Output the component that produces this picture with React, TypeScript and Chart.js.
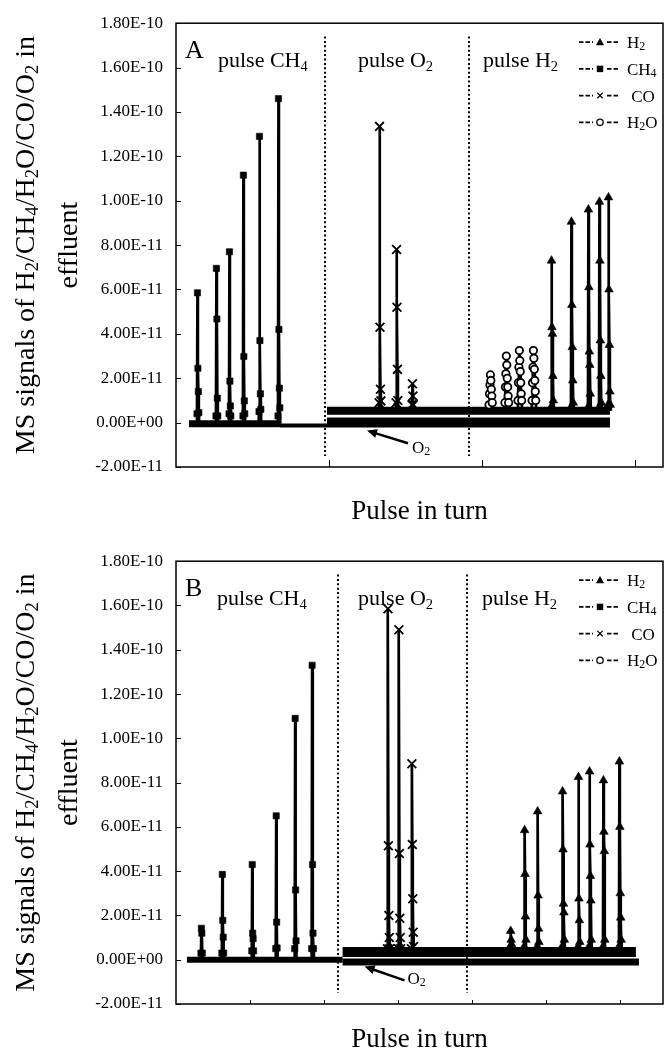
import React, { useEffect, useRef } from 'react';
import { Chart, registerables } from 'chart.js';

Chart.register(...registerables);

const SERIF = '"Liberation Serif", "Times New Roman", Times, serif';

// MS signal values are stored in units of 1E-11
const yTickValues = [-2, 0, 2, 4, 6, 8, 10, 12, 14, 16, 18];
const yTickLabels = [
  '-2.00E-11', '0.00E+00', '2.00E-11', '4.00E-11', '6.00E-11', '8.00E-11',
  '1.00E-10', '1.20E-10', '1.40E-10', '1.60E-10', '1.80E-10',
];

// ---------------- Panel A ----------------
const xMaxA = 3180;
const xTickValuesA = [1000, 2000, 3000];
const phaseBoundsA = [973, 1913];

const ch4PeakTimesA = [137, 261, 346, 437, 542, 666];
const ch4PeakSamplesA = [
  [0.4, 5.85, 2.45, 1.4, 0.45],
  [0.3, 6.95, 4.67, 1.1, 0.3],
  [0.4, 7.7, 1.87, 0.75, 0.3],
  [0.3, 11.15, 2.98, 0.98, 0.4],
  [0.5, 12.9, 3.7, 1.3, 0.6],
  [0.3, 14.6, 4.2, 1.55, 0.67],
];
const coPeakTimesA = [1326, 1437, 1541];
const coPeakSamplesA = [
  [0.9, 13.35, 4.3, 1.5, 0.98],
  [0.9, 7.8, 5.2, 2.4, 1.0],
  [0.8, 1.75, 1.2, 0.8],
];
const h2oPeakTimesA = [2044, 2148, 2233, 2325];
const h2oPeakSamplesA = [
  [0.8, 1.3, 1.7, 2.15, 1.9, 1.5, 1.2, 0.9],
  [0.9, 1.6, 2.2, 3.0, 2.6, 2.0, 1.6, 1.2, 0.9],
  [1.0, 1.8, 2.5, 3.25, 2.8, 2.3, 1.8, 1.3, 1.0],
  [1.0, 1.8, 2.5, 3.25, 2.9, 2.4, 1.9, 1.4, 1.0],
];
const h2PeakTimesA = [2449, 2579, 2690, 2762, 2821];
const h2PeakSamplesA = [
  [0.7, 7.3, 4.3, 4.0, 2.1, 1.0],
  [0.7, 9.05, 5.3, 3.4, 1.9, 0.9],
  [0.7, 9.6, 6.1, 3.2, 2.6, 1.3],
  [0.7, 9.95, 7.3, 3.7, 2.1, 0.9],
  [0.8, 10.15, 6.0, 3.5, 1.4, 0.8],
];
// baseline levels between pulses: [start, end, level]
const ch4BaselineA = [85, 679, -0.05];
const ch4TailBaselineA = [679, 986, -0.13];
const o2BaselineA = [986, 2834, 0];
const mixedBaselineA = [986, 2834, 0.53];

// ---------------- Panel B ----------------
const xMaxB = 6580;
const xTickValuesB = [1000, 2000, 3000, 4000, 5000, 6000];
const phaseBoundsB = [2184, 3936];

const ch4PeakTimesB = [337, 620, 1024, 1348, 1604, 1833];
const ch4PeakSamplesB = [
  [0.3, 1.42, 1.2, 0.3],
  [0.3, 3.85, 1.78, 1.02, 0.3],
  [0.4, 4.3, 1.2, 0.95, 0.4],
  [0.5, 6.5, 1.7, 0.53],
  [0.5, 10.9, 3.15, 0.85],
  [0.5, 13.3, 4.3, 1.2, 0.5],
];
const coPeakTimesB = [2858, 3006, 3181];
const coPeakSamplesB = [
  [0.5, 15.85, 5.15, 2.0, 1.0, 0.5],
  [0.5, 14.9, 4.8, 1.87, 1.0, 0.5],
  [0.5, 8.85, 5.2, 2.75, 1.24, 0.6],
];
const h2PeakTimesB = [4516, 4704, 4880, 5217, 5432, 5581, 5769, 5985];
const h2PeakSamplesB = [
  [0.6, 1.3, 0.9, 0.7],
  [0.6, 5.85, 3.87, 1.95, 0.9],
  [0.6, 6.7, 2.9, 1.4, 0.8],
  [0.6, 7.6, 4.98, 2.53, 2.13, 0.9],
  [0.6, 8.25, 2.76, 1.78, 0.8],
  [0.6, 8.5, 5.2, 3.78, 2.67, 0.9],
  [0.6, 8.1, 5.78, 4.9, 0.9],
  [0.6, 8.95, 6.0, 3.0, 1.9, 0.9],
];
const ch4BaselineB = [148, 2251, 0];
const o2BaselineB = [2251, 6255, -0.1];
const mixedBaselineB = [2251, 6214, 0.35];

// ---------------- drawing helpers ----------------
type Seg = { t: string; sub?: boolean };
type Marker = 'triangle' | 'rect' | 'crossRot' | 'circle';

const SERIES_STYLE: Record<string, { marker: Marker; radius: number; fill: string; edge: number }> = {
  h2: { marker: 'triangle', radius: 5, fill: '#000', edge: 0.6 },
  ch4: { marker: 'rect', radius: 4.4, fill: '#000', edge: 0.6 },
  co: { marker: 'crossRot', radius: 6.2, fill: '#000', edge: 1.8 },
  h2o: { marker: 'circle', radius: 3.7, fill: '#fff', edge: 1.8 },
};

const LEGEND_ITEMS: { key: string; label: Seg[] }[] = [
  { key: 'h2', label: [{ t: 'H' }, { t: '2', sub: true }] },
  { key: 'ch4', label: [{ t: 'CH' }, { t: '4', sub: true }] },
  { key: 'co', label: [{ t: ' CO' }] },
  { key: 'h2o', label: [{ t: 'H' }, { t: '2', sub: true }, { t: 'O' }] },
];

const Y_TITLE_1: Seg[] = [
  { t: 'MS signals of H' }, { t: '2', sub: true }, { t: '/CH' }, { t: '4', sub: true },
  { t: '/H' }, { t: '2', sub: true }, { t: 'O/CO/O' }, { t: '2', sub: true }, { t: ' in' },
];
const Y_TITLE_2: Seg[] = [{ t: 'effluent' }];
const X_TITLE: Seg[] = [{ t: 'Pulse in turn' }];

function drawRich(
  ctx: CanvasRenderingContext2D, segs: Seg[], x: number, y: number, size: number,
  align: 'left' | 'center', subScale = 0.66, subDrop = 0.16,
) {
  let w = 0;
  for (const s of segs) {
    ctx.font = `${s.sub ? size * subScale : size}px ${SERIF}`;
    w += ctx.measureText(s.t).width;
  }
  let cx = align === 'center' ? x - w / 2 : x;
  ctx.textAlign = 'left';
  ctx.textBaseline = 'alphabetic';
  for (const s of segs) {
    const fs = s.sub ? size * subScale : size;
    ctx.font = `${fs}px ${SERIF}`;
    ctx.fillText(s.t, cx, y + (s.sub ? size * subDrop : 0));
    cx += ctx.measureText(s.t).width;
  }
}

function drawMarker(ctx: CanvasRenderingContext2D, m: Marker, x: number, y: number, r: number, fill: string) {
  ctx.save();
  ctx.fillStyle = fill;
  ctx.strokeStyle = '#000';
  ctx.lineWidth = 1.3;
  ctx.setLineDash([]);
  ctx.beginPath();
  if (m === 'triangle') {
    ctx.moveTo(x, y - r);
    ctx.lineTo(x + r * 0.95, y + r * 0.7);
    ctx.lineTo(x - r * 0.95, y + r * 0.7);
    ctx.closePath();
    ctx.fill();
  } else if (m === 'rect') {
    ctx.rect(x - r * 0.75, y - r * 0.75, r * 1.5, r * 1.5);
    ctx.fill();
  } else if (m === 'crossRot') {
    const d = r * 0.6;
    ctx.moveTo(x - d, y - d); ctx.lineTo(x + d, y + d);
    ctx.moveTo(x + d, y - d); ctx.lineTo(x - d, y + d);
    ctx.stroke();
  } else {
    ctx.arc(x, y, r, 0, Math.PI * 2);
    ctx.fill();
    ctx.stroke();
  }
  ctx.restore();
}

type Pt = { x: number; y: number; bare?: boolean };

// each pulse: return to the baseline, then the sampled MS readings of the pulse
function pulsePoints(times: number[], samples: number[][], base: number, scanStep: number): Pt[] {
  const pts: Pt[] = [];
  times.forEach((t, i) => {
    const s = samples[i];
    pts.push({ x: t - scanStep, y: base, bare: true });
    s.forEach((v, k) => pts.push({ x: t + k * scanStep, y: v }));
    pts.push({ x: t + s.length * scanStep, y: base, bare: true });
  });
  return pts;
}

function seriesDataset(key: string, data: Pt[]) {
  const st = SERIES_STYLE[key];
  return {
    data,
    borderColor: '#000',
    borderWidth: 2.7,
    tension: 0,
    pointStyle: st.marker,
    pointRadius: (c: any) => (c.raw && c.raw.bare ? 0 : st.radius),
    pointBackgroundColor: st.fill,
    pointBorderColor: '#000',
    pointBorderWidth: st.edge,
    order: 1,
  };
}

function baselineDataset(seg: number[], width: number) {
  return {
    data: [{ x: seg[0], y: seg[2] }, { x: seg[1], y: seg[2] }],
    borderColor: '#000',
    borderWidth: width,
    borderCapStyle: 'butt',
    pointRadius: 0,
    order: 2,
  };
}

type Panel = {
  letter: string;
  top: number;
  height: number;
  chartBottom: number;
  xMax: number;
  xTicks: number[];
  xTickLen: number;
  bounds: number[];
  xTitleBaseline: number;
  labelX: number[];
  arrow: { headX: number; headY: number; tailX: number; tailY: number; textX: number; textY: number };
  datasets: any[];
};

const scanStepA = 3.0;
const scanStepB = 6.0;

const PANELS: Panel[] = [
  {
    letter: 'A',
    top: 0,
    height: 538,
    chartBottom: 467,
    xMax: xMaxA,
    xTicks: xTickValuesA,
    xTickLen: 7,
    bounds: phaseBoundsA,
    xTitleBaseline: 519,
    labelX: [218, 358, 483],
    arrow: { headX: 1247, headY: -0.36, tailX: 1515, tailY: -0.93, textX: 1541, textY: -1.38 },
    datasets: [
      seriesDataset('ch4', pulsePoints(ch4PeakTimesA, ch4PeakSamplesA, ch4BaselineA[2], scanStepA)),
      seriesDataset('co', pulsePoints(coPeakTimesA, coPeakSamplesA, mixedBaselineA[2], scanStepA)),
      seriesDataset('h2o', pulsePoints(h2oPeakTimesA, h2oPeakSamplesA, mixedBaselineA[2], scanStepA)),
      seriesDataset('h2', pulsePoints(h2PeakTimesA, h2PeakSamplesA, mixedBaselineA[2], scanStepA)),
      baselineDataset(ch4BaselineA, 7),
      baselineDataset(ch4TailBaselineA, 4),
      baselineDataset(o2BaselineA, 10),
      baselineDataset(mixedBaselineA, 8),
    ],
  },
  {
    letter: 'B',
    top: 538,
    height: 519,
    chartBottom: 466,
    xMax: xMaxB,
    xTicks: xTickValuesB,
    xTickLen: 4,
    bounds: phaseBoundsB,
    xTitleBaseline: 509,
    labelX: [217, 358, 482],
    arrow: { headX: 2548, headY: -0.31, tailX: 3087, tailY: -0.93, textX: 3127, textY: -1.11 },
    datasets: [
      seriesDataset('ch4', pulsePoints(ch4PeakTimesB, ch4PeakSamplesB, ch4BaselineB[2], scanStepB)),
      seriesDataset('co', pulsePoints(coPeakTimesB, coPeakSamplesB, mixedBaselineB[2], scanStepB)),
      seriesDataset('h2', pulsePoints(h2PeakTimesB, h2PeakSamplesB, mixedBaselineB[2], scanStepB)),
      baselineDataset(ch4BaselineB, 6),
      baselineDataset(o2BaselineB, 7),
      baselineDataset(mixedBaselineB, 10),
    ],
  },
];

function framePlugin(p: Panel) {
  return {
    id: 'frame' + p.letter,
    beforeDatasetsDraw(chart: any) {
      const { ctx, scales } = chart;
      const xs = scales.x, ys = scales.y;
      ctx.save();
      ctx.strokeStyle = '#000';
      ctx.lineWidth = 2;
      ctx.setLineDash([2, 2.4]);
      for (const b of p.bounds) {
        const px = Math.round(xs.getPixelForValue(b));
        ctx.beginPath();
        ctx.moveTo(px, ys.getPixelForValue(17.4));
        ctx.lineTo(px, ys.getPixelForValue(-1.5));
        ctx.stroke();
      }
      ctx.restore();
    },
    afterDraw(chart: any) {
      const { ctx, chartArea, scales } = chart;
      const { left, right, top, bottom } = chartArea;
      const xs = scales.x, ys = scales.y;
      ctx.save();
      ctx.setLineDash([]);
      ctx.strokeStyle = '#000';
      ctx.fillStyle = '#000';

      // frame
      ctx.lineWidth = 1.5;
      ctx.strokeRect(left, top, right - left, bottom - top);

      // inward tick marks
      ctx.lineWidth = 1;
      ctx.beginPath();
      for (const v of yTickValues) {
        const py = Math.round(ys.getPixelForValue(v)) + 0.5;
        ctx.moveTo(left, py);
        ctx.lineTo(left + 5, py);
      }
      for (const v of p.xTicks) {
        const px = Math.round(xs.getPixelForValue(v)) + 0.5;
        ctx.moveTo(px, bottom);
        ctx.lineTo(px, bottom - p.xTickLen);
      }
      ctx.stroke();

      // panel letter and pulse phase labels
      drawRich(ctx, [{ t: p.letter }], left + 9, top + 35, 26, 'left');
      drawRich(ctx, [{ t: 'pulse CH' }, { t: '4', sub: true }], p.labelX[0], top + 44, 22, 'left');
      drawRich(ctx, [{ t: 'pulse O' }, { t: '2', sub: true }], p.labelX[1], top + 44, 22, 'left');
      drawRich(ctx, [{ t: 'pulse H' }, { t: '2', sub: true }], p.labelX[2], top + 44, 22, 'left');

      // legend
      LEGEND_ITEMS.forEach((item, i) => {
        const st = SERIES_STYLE[item.key];
        const cy = top + 19 + i * 26.7;
        ctx.save();
        ctx.lineWidth = 1.8;
        ctx.setLineDash([4.5, 2]);
        ctx.beginPath();
        ctx.moveTo(579, cy); ctx.lineTo(593, cy);
        ctx.moveTo(607, cy); ctx.lineTo(620, cy);
        ctx.stroke();
        ctx.restore();
        const r = item.key === 'co' ? 4.5 : item.key === 'h2o' ? 3.2 : 4.3;
        drawMarker(ctx, st.marker, 600, cy, r, st.fill);
        drawRich(ctx, item.label, 627, cy + 6, 17, 'left', 0.7, 0.12);
      });

      // O2 annotation arrow
      const a = p.arrow;
      const hx = xs.getPixelForValue(a.headX), hy = ys.getPixelForValue(a.headY);
      const tx = xs.getPixelForValue(a.tailX), ty = ys.getPixelForValue(a.tailY);
      const ang = Math.atan2(hy - ty, hx - tx);
      ctx.lineWidth = 2.5;
      ctx.beginPath();
      ctx.moveTo(tx, ty);
      ctx.lineTo(hx - Math.cos(ang) * 6, hy - Math.sin(ang) * 6);
      ctx.stroke();
      ctx.beginPath();
      ctx.moveTo(hx, hy);
      ctx.lineTo(hx - Math.cos(ang) * 10 - Math.sin(ang) * 4.5, hy - Math.sin(ang) * 10 + Math.cos(ang) * 4.5);
      ctx.lineTo(hx - Math.cos(ang) * 10 + Math.sin(ang) * 4.5, hy - Math.sin(ang) * 10 - Math.cos(ang) * 4.5);
      ctx.closePath();
      ctx.fill();
      drawRich(ctx, [{ t: 'O' }, { t: '2', sub: true }], xs.getPixelForValue(a.textX), ys.getPixelForValue(a.textY), 17, 'left', 0.7, 0.1);

      // axis titles
      const cyMid = (top + bottom) / 2;
      ctx.save();
      ctx.translate(34, cyMid);
      ctx.rotate(-Math.PI / 2);
      drawRich(ctx, Y_TITLE_1, 0, 0, 28, 'center', 0.66, 0.16);
      ctx.restore();
      ctx.save();
      ctx.translate(77, cyMid);
      ctx.rotate(-Math.PI / 2);
      drawRich(ctx, Y_TITLE_2, 0, 0, 28, 'center');
      ctx.restore();
      drawRich(ctx, X_TITLE, (left + right) / 2, p.xTitleBaseline, 27, 'center');

      ctx.restore();
    },
  };
}

function PanelChart({ panel }: { panel: Panel }) {
  const ref = useRef<HTMLCanvasElement | null>(null);
  useEffect(() => {
    if (!ref.current) return;
    const chart = new Chart(ref.current, {
      type: 'line',
      data: { datasets: panel.datasets },
      options: {
        animation: false,
        responsive: false,
        events: [],
        layout: { padding: { top: 17, right: 2, bottom: panel.height - panel.chartBottom, left: 0 } },
        plugins: { legend: { display: false }, tooltip: { enabled: false } },
        scales: {
          x: { type: 'linear', min: 0, max: panel.xMax, display: false },
          y: {
            type: 'linear',
            min: -2,
            max: 18,
            afterBuildTicks: (s: any) => {
              s.ticks = yTickValues.map((v) => ({ value: v }));
            },
            afterFit: (s: any) => {
              s.width = 176;
            },
            grid: { display: false, drawTicks: false },
            border: { display: false },
            ticks: {
              padding: 13,
              color: '#000',
              font: { family: SERIF, size: 17 },
              callback: (v: any) => {
                const i = yTickValues.indexOf(Number(v));
                return i >= 0 ? yTickLabels[i] : '';
              },
            },
          },
        },
      } as any,
      plugins: [framePlugin(panel)],
    });
    return () => chart.destroy();
  }, [panel]);
  return (
    <canvas
      ref={ref}
      width={665}
      height={panel.height}
      style={{ position: 'absolute', left: 0, top: panel.top, width: 665, height: panel.height }}
    />
  );
}

export default function App() {
  return (
    <div style={{ position: 'fixed', left: 0, top: 0, width: 665, height: 1057, background: '#fff', overflow: 'hidden' }}>
      {PANELS.map((p) => (
        <PanelChart key={p.letter} panel={p} />
      ))}
    </div>
  );
}
